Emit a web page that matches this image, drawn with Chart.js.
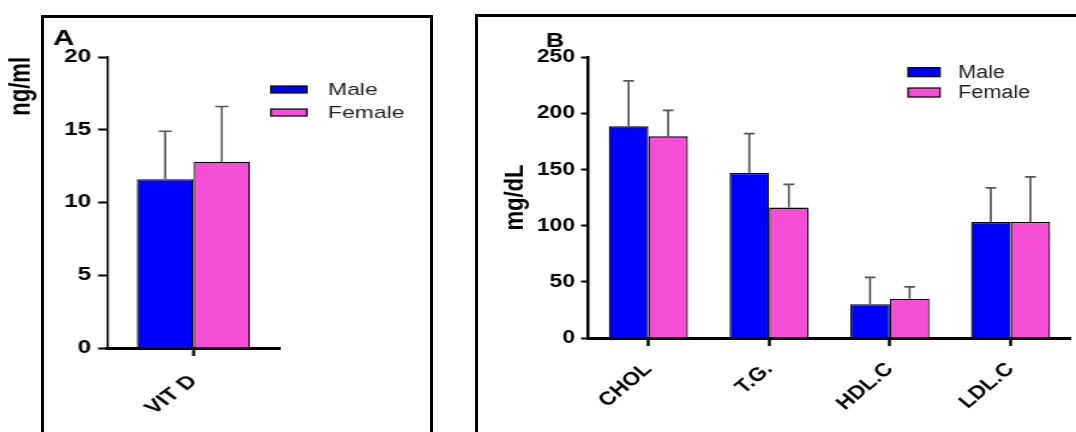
<!DOCTYPE html>
<html>
<head>
<meta charset="utf-8">
<script src="https://cdn.jsdelivr.net/npm/chart.js@4.4.1/dist/chart.umd.min.js"></script>
<style>
    body { margin: 0; background: #fff; width: 1076px; height: 432px; overflow: hidden; position: relative; }
    .frame { position: absolute; border: 3px solid #000; box-sizing: border-box; }
    #frameA { left: 41px; top: 15px; width: 392px; height: 440px; }
    #frameB { left: 475px; top: 14px; width: 640px; height: 440px; }
    canvas { position: absolute; top: 0; }
</style>
</head>
<body>
<div class="frame" id="frameA"></div>
<div class="frame" id="frameB"></div>
<!-- the source figure is stretched sideways, so the canvases are too -->
<canvas id="chartA" width="326" height="432" style="left:0px;width:440px;height:432px"></canvas>
<canvas id="chartB" width="505" height="432" style="left:470px;width:606px;height:432px"></canvas>
<script>
    // Panel A - vitamin D
    var vitLabels = ['VIT D'];
    var vitMale = [11.6];
    var vitFemale = [12.8];
    var vitMaleSD = [3.3];
    var vitFemaleSD = [3.8];
    var vitTicks = [0, 5, 10, 15, 20];

    // Panel B - lipid profile
    var lipidLabels = ['CHOL', 'T.G.', 'HDL.C', 'LDL.C'];
    var lipidMale = [188.3, 146.8, 30, 103.2];
    var lipidFemale = [179.4, 116, 35, 103.2];
    var lipidMaleSD = [40.4, 35, 24, 30.3];
    var lipidFemaleSD = [23.2, 20.7, 10.4, 40.2];
    var lipidTicks = [0, 50, 100, 150, 200, 250];

    var BLUE = '#0000FF';
    var PINK = '#F54DD5';
    var FAMILY = '"Liberation Sans", Arial, sans-serif';

    Chart.defaults.font.family = FAMILY;
    Chart.defaults.color = '#000';

    // upward SD whiskers on every bar
    var errorBars = {
        id: 'errorBars',
        afterDatasetsDraw: function(chart, args, opts) {
            var ctx = chart.ctx;
            var yScale = chart.scales.y;
            ctx.save();
            ctx.strokeStyle = opts.color;
            ctx.lineWidth = opts.width;
            chart.data.datasets.forEach(function(ds, i) {
                chart.getDatasetMeta(i).data.forEach(function(bar, j) {
                    var top = yScale.getPixelForValue(ds.data[j] + ds.errors[j]);
                    ctx.beginPath();
                    ctx.moveTo(bar.x, bar.y);
                    ctx.lineTo(bar.x, top);
                    ctx.moveTo(bar.x - opts.cap, top);
                    ctx.lineTo(bar.x + opts.cap, top);
                    ctx.stroke();
                });
            });
            ctx.restore();
        }
    };

    // panel letter + legend boxes placed where the figure has them
    var panelLabels = {
        id: 'panelLabels',
        afterDraw: function(chart, args, opts) {
            var ctx = chart.ctx;
            ctx.save();
            ctx.fillStyle = '#000';
            ctx.font = 'bold ' + opts.letterSize + 'px ' + FAMILY;
            ctx.textBaseline = 'alphabetic';
            ctx.fillText(opts.letter, opts.letterX, opts.letterY);

            ctx.font = opts.legendSize + 'px ' + FAMILY;
            ctx.textBaseline = 'middle';
            chart.data.datasets.forEach(function(ds, i) {
                var y = opts.legendY + i * opts.legendGap;
                ctx.fillStyle = ds.backgroundColor;
                ctx.fillRect(opts.legendX, y - opts.boxH / 2, opts.boxW, opts.boxH);
                ctx.strokeStyle = '#000';
                ctx.lineWidth = 1.2;
                ctx.strokeRect(opts.legendX, y - opts.boxH / 2, opts.boxW, opts.boxH);
                ctx.fillStyle = '#222';
                ctx.fillText(ds.label, opts.textX, y + 1);
            });
            ctx.restore();
        }
    };

    function makeDatasets(male, female, maleSD, femaleSD) {
        return [{
            label: 'Male',
            data: male,
            errors: maleSD,
            backgroundColor: BLUE,
            borderColor: '#000',
            borderWidth: 1.3,
            categoryPercentage: 0.655,
            barPercentage: 1
        }, {
            label: 'Female',
            data: female,
            errors: femaleSD,
            backgroundColor: PINK,
            borderColor: '#000',
            borderWidth: 1.3,
            categoryPercentage: 0.655,
            barPercentage: 1
        }];
    }

    function makeChart(id, cfg) {
        return new Chart(document.getElementById(id), {
            type: 'bar',
            data: {
                labels: cfg.labels,
                datasets: makeDatasets(cfg.male, cfg.female, cfg.maleSD, cfg.femaleSD)
            },
            plugins: [errorBars, panelLabels],
            options: {
                responsive: false,
                animation: false,
                devicePixelRatio: 1,
                layout: { padding: cfg.padding },
                plugins: {
                    legend: { display: false },
                    tooltip: { enabled: false },
                    errorBars: cfg.errorBars,
                    panelLabels: cfg.panel
                },
                scales: {
                    x: {
                        afterFit: function(scale) { scale.height = cfg.xHeight; },
                        grid: { offset: false, drawOnChartArea: false, tickLength: 8, tickWidth: cfg.xTickWidth, tickColor: '#000' },
                        border: { display: true, color: '#000', width: 3 },
                        ticks: {
                            autoSkip: false, minRotation: 45, maxRotation: 45, padding: cfg.xPad,
                            color: '#000', font: { size: cfg.xFont, weight: 'bold' }
                        }
                    },
                    y: {
                        min: 0,
                        max: cfg.ticks[cfg.ticks.length - 1],
                        afterFit: function(scale) { scale.width = cfg.yWidth; },
                        afterBuildTicks: function(scale) {
                            scale.ticks = cfg.ticks.map(function(v) { return { value: v }; });
                        },
                        grid: { drawOnChartArea: false, tickLength: cfg.yTickLength, tickWidth: 2, tickColor: '#000' },
                        border: { display: true, color: '#000', width: cfg.yBorder },
                        ticks: { padding: 5, color: '#000', font: { size: cfg.yFont, weight: 'bold' } },
                        title: {
                            display: true, text: cfg.yTitle, align: cfg.yTitleAlign, color: '#000',
                            font: { size: cfg.yTitleSize, weight: 'bold' },
                            padding: { top: cfg.yTitlePad, bottom: 0 }
                        }
                    }
                }
            }
        });
    }

    makeChart('chartA', {
        labels: vitLabels, male: vitMale, female: vitFemale,
        maleSD: vitMaleSD, femaleSD: vitFemaleSD, ticks: vitTicks,
        padding: { top: 57, right: 118.6, bottom: 0, left: 0 },
        xHeight: 84, yWidth: 79.3, xTickWidth: 2.2, xFont: 18, xPad: 15,
        yTickLength: 6.7, yBorder: 1.5, yFont: 18,
        yTitle: 'ng/ml', yTitleAlign: 'end', yTitleSize: 22, yTitlePad: 3,
        errorBars: { color: '#555', width: 1.5, cap: 4.8 },
        panel: {
            letter: 'A', letterSize: 22, letterX: 39.3, letterY: 45,
            legendX: 200.7, legendY: 89.5, legendGap: 23, boxW: 26.7, boxH: 7,
            textX: 243, legendSize: 17
        }
    });

    makeChart('chartB', {
        labels: lipidLabels, male: lipidMale, female: lipidFemale,
        maleSD: lipidMaleSD, femaleSD: lipidFemaleSD, ticks: lipidTicks,
        padding: { top: 57, right: 4.2, bottom: 0, left: 0 },
        xHeight: 94, yWidth: 98.3, xTickWidth: 2.5, xFont: 19, xPad: 12,
        yTickLength: 5.8, yBorder: 2.5, yFont: 19,
        yTitle: 'mg/dL', yTitleAlign: 'center', yTitleSize: 22, yTitlePad: 24.3,
        errorBars: { color: '#555', width: 1.7, cap: 4.5 },
        panel: {
            letter: 'B', letterSize: 21, letterX: 63.3, letterY: 47,
            legendX: 365, legendY: 72.2, legendGap: 20.3, boxW: 26.7, boxH: 9,
            textX: 406.7, legendSize: 18
        }
    });
</script>
</body>
</html>
